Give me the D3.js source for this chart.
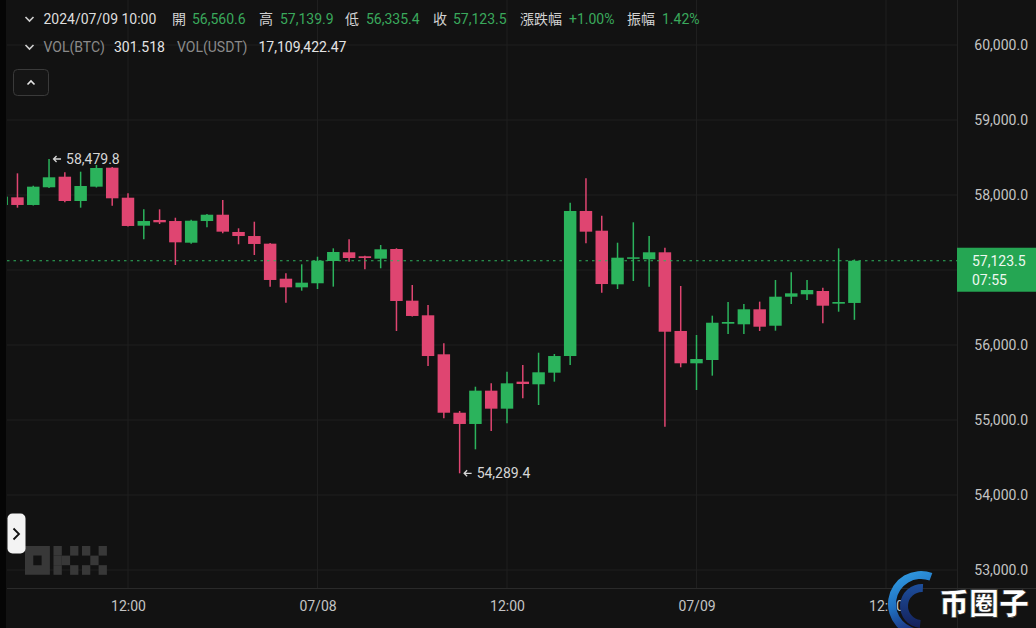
<!DOCTYPE html>
<html><head><meta charset="utf-8">
<script src="https://cdn.jsdelivr.net/npm/d3@7"></script>
<style>html,body{margin:0;padding:0;background:#121212;overflow:hidden}</style>
</head><body><svg id="c" width="1036" height="628"></svg>
<script>
// ---- data (hourly candles, BTC/USDT) ----
const firstHour = "2024-07-07T04:00:00Z";
const lastHour  = "2024-07-09T10:00:00Z";
const opens  = [57867,57969,57867,58103,58244,57920,58111,58364,57964,57591,57667,57653,57364,57653,57737,57507,57453,57351,56884,56769,
                56823,57120,57236,57183,57151,57280,56591,56396,55876,55097,54947,55391,55151,55511,55476,55631,55853,57787,57524,56809,57151,57143,57236,56187,
                55756,55800,56284,56276,56476,56257,56644,56676,56720,56551,56560.6];
const highs  = [57990,58289,58125,58479.8,58303,58311,58400,58372,58023,57809,57809,57697,57670,57747,57933,57556,57644,57360,56956,57076,
                57177,57289,57409,57191,57333,57290,56800,56533,56023,55120,55444,55489,55644,55733,55897,55880,57897,58223,57724,57364,57636,57453,57297,56787,
                56133,56391,56573,56547,56578,56867,56969,56867,56764,57289,57139.9];
const lows   = [57850,57831,57860,58095,57903,57831,58100,57857,57580,57409,57613,57067,57350,57569,57489,57343,57200,56778,56564,56724,
                56747,56778,57111,57009,57023,56187,56380,55720,55023,54289.4,54609,54853,54956,55289,55200,55511,55733,57356,56697,56747,56853,56778,54911,55703,
                55400,55591,56147,56147,56187,56191,56547,56600,56289,56444,56335.4];
const closes = [57978,57867,58111,58236,57920,58120,58360,57956,57587,57653,57636,57369,57657,57737,57511,57453,57347,56867,56769,56831,
                57124,57240,57160,57160,57276,56587,56387,55853,55097,54947,55391,55151,55489,55480,55636,55853,57787,57511,56813,57164,57169,57236,56177,55756,
                55813,56297,56307,56476,56244,56644,56689,56733,56524,56573,57123.5];
const gridTicks  = [53000,54000,55000,56000,57000,58000,59000,60000];
const labelTicks = [53000,54000,55000,56000,58000,59000,60000]; // 57,000 sits under the price tag
const xDomain = ["2024-07-07T12:00:00Z","2024-07-09T12:00:00Z"];
const lastPrice = 57123.5;
const lastCountdown = "07:55";
const maxMark = {price:58479.8, label:"58,479.8"};
const minMark = {price:54289.4, label:"54,289.4"};
const headerLine1 = [
  {t:"2024/07/09 10:00", k:"date", x:43.5},
  {t:"開", k:"lab", x:172}, {t:"56,560.6", k:"val", x:192},
  {t:"高", k:"lab", x:259}, {t:"57,139.9", k:"val", x:280},
  {t:"低", k:"lab", x:345}, {t:"56,335.4", k:"val", x:366},
  {t:"收", k:"lab", x:433}, {t:"57,123.5", k:"val", x:453},
  {t:"漲跌幅", k:"lab", x:520}, {t:"+1.00%", k:"val", x:569},
  {t:"振幅", k:"lab", x:627}, {t:"1.42%", k:"val", x:662}
];
const headerLine2 = [
  {t:"VOL(BTC)", k:"vlab", x:43.5}, {t:"301.518", k:"vval", x:114},
  {t:"VOL(USDT)", k:"vlab", x:177}, {t:"17,109,422.47", k:"vval", x:258.5}
];

// ---- drawing ----
const W = 1036, H = 628;
const plotL = 7, plotR = 957, axisY = 588;
const UP = "#2bb35c", DOWN = "#df4571";
const FONT = "Roboto, 'Noto Sans CJK TC', sans-serif";
const svg = d3.select("#c");
const defs = svg.append("defs");
const times = d3.utcHour.range(new Date(firstHour), d3.utcHour.offset(new Date(lastHour), 1));
const candles = times.map((t,i)=>({t, o:opens[i], h:highs[i], l:lows[i], c:closes[i]}));

const x = d3.scaleUtc().domain(xDomain.map(d=>new Date(d))).range([128, 886]);
const y = d3.scaleLinear().domain([53000, 60000]).range([570, 45]);
const step = x(d3.utcHour.offset(x.domain()[0],1)) - x(x.domain()[0]);
const bw = step * 0.79;

svg.append("rect").attr("width", W).attr("height", H).attr("fill", "#121212");

// grid
const allXTicks = x.ticks(d3.utcHour.every(12));
const xTicks = allXTicks.filter(d => x(d) > plotL && x(d) < plotR);
svg.append("g").selectAll("line").data(gridTicks).join("line")
  .attr("x1", plotL).attr("x2", plotR).attr("y1", d=>y(d)).attr("y2", d=>y(d))
  .attr("stroke", "#1f1f1f").attr("stroke-width", 1);
svg.append("g").selectAll("line").data(xTicks).join("line")
  .attr("x1", d=>x(d)).attr("x2", d=>x(d)).attr("y1", 0).attr("y2", axisY)
  .attr("stroke", "#1f1f1f").attr("stroke-width", 1);
svg.append("line").attr("x1", plotR+0.5).attr("x2", plotR+0.5).attr("y1", 0).attr("y2", H)
  .attr("stroke", "#222").attr("stroke-width", 1);
svg.append("line").attr("x1", plotL).attr("x2", W).attr("y1", axisY+0.5).attr("y2", axisY+0.5)
  .attr("stroke", "#2a2a2a").attr("stroke-width", 1);

// clip
defs.append("clipPath").attr("id","plotclip").append("rect")
  .attr("x", plotL).attr("y", 0).attr("width", plotR-plotL).attr("height", axisY);

// OKX watermark (logo blocks)
const okx = svg.append("g").attr("fill", "#383838");
const cw = 8.3, ch = 9.6, oy = 546;
okx.append("path").attr("fill-rule","evenodd")
  .attr("d", `M25,${oy}h${3*cw}v${3*ch}h${-3*cw}Z M${25+cw},${oy+ch}h${cw}v${ch}h${-cw}Z`);
[[0,0],[0,1],[0,2],[1,1],[2,0],[2,2]].forEach(([c,r])=>okx.append("rect").attr("x",53.5+c*cw).attr("y",oy+r*ch).attr("width",cw).attr("height",ch));
[[0,0],[0,2],[1,1],[2,0],[2,2]].forEach(([c,r])=>okx.append("rect").attr("x",82+c*cw).attr("y",oy+r*ch).attr("width",cw).attr("height",ch));

// candles
const cg = svg.append("g").attr("clip-path","url(#plotclip)");
const cs = cg.selectAll("g").data(candles).join("g");
cs.append("line")
  .attr("x1", d=>x(d.t)).attr("x2", d=>x(d.t))
  .attr("y1", d=>y(d.h)).attr("y2", d=>y(d.l))
  .attr("stroke", d=>d.c>=d.o?UP:DOWN).attr("stroke-width", 1.5);
cs.append("rect")
  .attr("x", d=>x(d.t)-bw/2).attr("width", bw)
  .attr("y", d=>y(Math.max(d.o,d.c)))
  .attr("height", d=>Math.max(1.5, Math.abs(y(d.o)-y(d.c))))
  .attr("fill", d=>d.c>=d.o?UP:DOWN);

// last price dashed line
svg.append("line").attr("x1", plotL).attr("x2", plotR).attr("y1", y(lastPrice)).attr("y2", y(lastPrice))
  .attr("stroke", "#2fb35e").attr("stroke-width", 1.2).attr("stroke-dasharray", "2.5,4");

// max / min marks
function mark(m){
  const cand = candles.find(d=>d.h===m.price || d.l===m.price);
  const ax = x(cand.t) + 4, yy = y(m.price);
  svg.append("path").attr("d", `M${ax+8},${yy} H${ax+0.5} M${ax+3.5},${yy-3} L${ax+0.5},${yy} L${ax+3.5},${yy+3}`)
    .attr("stroke","#d6d6d6").attr("stroke-width",1.3).attr("fill","none");
  svg.append("text").attr("x", ax+13).attr("y", yy+5).text(m.label)
    .attr("fill","#d6d6d6").attr("font-size",14).attr("font-family",FONT);
}
mark(maxMark); mark(minMark);

// right axis
const yAxis = d3.axisLeft(y).tickValues(labelTicks).tickFormat(d3.format(",.1f")).tickSize(0).tickPadding(0);
const ya = svg.append("g").attr("transform", "translate(1028,0)").call(yAxis);
ya.select(".domain").remove();
ya.selectAll("text").attr("fill","#c4c4c4").attr("font-size",14).attr("font-family",FONT);

// bottom axis
const fmt = d => d.getUTCHours()===0 ? d3.utcFormat("%m/%d")(d) : d3.utcFormat("%H:%M")(d);
const xAxis = d3.axisBottom(x).tickValues(allXTicks.filter(d=>x(d)>plotL && x(d)<W)).tickFormat(fmt).tickSize(0).tickPadding(13);
const xa = svg.append("g").attr("transform", `translate(0,${axisY})`).call(xAxis);
xa.select(".domain").remove();
xa.selectAll("text").attr("fill","#c4c4c4").attr("font-size",14).attr("font-family",FONT);

// price tag
const tag = svg.append("g");
tag.append("rect").attr("x", plotR).attr("y", y(lastPrice)-13).attr("width", W-plotR).attr("height", 44).attr("fill", "#25a653");
tag.append("text").attr("x", 972).attr("y", y(lastPrice)+5).text(d3.format(",.1f")(lastPrice))
  .attr("fill","#eef8f0").attr("font-size",14).attr("font-family",FONT);
tag.append("text").attr("x", 972).attr("y", y(lastPrice)+24).text(lastCountdown)
  .attr("fill","#eef8f0").attr("font-size",14).attr("font-family",FONT);

// header
const colors = {date:"#dedede", lab:"#d2d2d2", val:"#3aa95c", vlab:"#8a8a8a", vval:"#e4e4e4"};
svg.append("g").selectAll("text").data(headerLine1).join("text")
  .attr("x", d=>d.x).attr("y", 24).text(d=>d.t).attr("fill", d=>colors[d.k])
  .attr("font-size",14).attr("font-family",FONT);
svg.append("g").selectAll("text").data(headerLine2).join("text")
  .attr("x", d=>d.x).attr("y", 52).text(d=>d.t).attr("fill", d=>colors[d.k])
  .attr("font-size",14).attr("font-family",FONT);
[17,45].forEach(yy=>svg.append("path").attr("d",`M25.5,${yy} L29.5,${yy+4} L33.5,${yy}`)
  .attr("stroke","#d0d0d0").attr("stroke-width",1.6).attr("fill","none"));

// collapse button
svg.append("rect").attr("x",13.5).attr("y",69.5).attr("width",35).attr("height",26).attr("rx",4)
  .attr("fill","#151515").attr("stroke","#3a3a3a");
svg.append("path").attr("d","M27.5,84.5 L31,81 L34.5,84.5").attr("stroke","#e6e6e6").attr("stroke-width",1.6).attr("fill","none");

// left edge bar + expand button
svg.append("rect").attr("x",0).attr("y",0).attr("width",6).attr("height",H).attr("fill","#050505");
svg.append("rect").attr("x",7.5).attr("y",513.5).attr("width",18).attr("height",40).attr("rx",5).attr("fill","#f3f3f3");
svg.append("path").attr("d","M13.5,528.5 L19,534 L13.5,539.5").attr("stroke","#111").attr("stroke-width",1.8).attr("fill","none");

// source watermark bottom right
const wm = svg.append("g");
const g1 = defs.append("linearGradient").attr("id","wmg").attr("x1","0").attr("y1","0").attr("x2","0.3").attr("y2","1");
g1.append("stop").attr("offset","0").attr("stop-color","#35a6ea");
g1.append("stop").attr("offset","0.55").attr("stop-color","#1f6fc0");
g1.append("stop").attr("offset","1").attr("stop-color","#1b2c78");
const g2 = defs.append("linearGradient").attr("id","wmg2").attr("x1","0").attr("y1","0").attr("x2","0").attr("y2","1");
g2.append("stop").attr("offset","0").attr("stop-color","#1d4f9c");
g2.append("stop").attr("offset","1").attr("stop-color","#14205a");
const arc = d3.arc();
wm.append("path").attr("transform","translate(921,604)")
  .attr("d", arc({innerRadius:25, outerRadius:33, startAngle:-Math.PI-0.05, endAngle:0.35}))
  .attr("fill","url(#wmg)");
wm.append("path").attr("transform","translate(922,606)")
  .attr("d", arc({innerRadius:14, outerRadius:22, startAngle:-Math.PI+0.1, endAngle:0.05}))
  .attr("fill","url(#wmg2)");
wm.append("text").attr("x",939).attr("y",614).text("币圈子")
  .attr("fill","#ffffff").attr("font-size",30).attr("font-weight",900)
  .attr("font-family","'Noto Sans CJK SC', sans-serif").attr("stroke","#222").attr("stroke-width",0.6);
</script></body></html>
